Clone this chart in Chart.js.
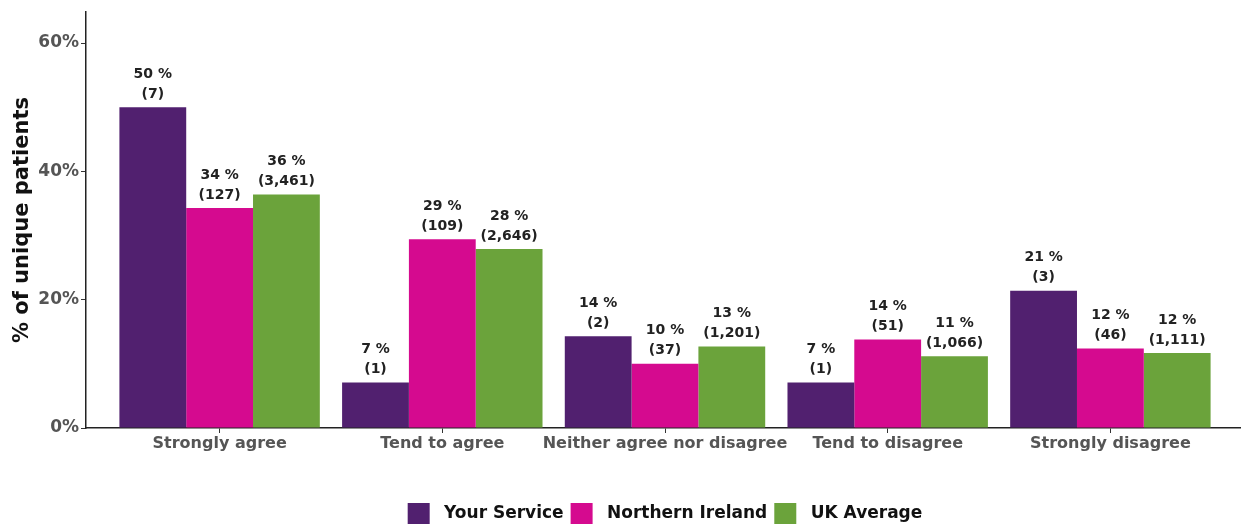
<!DOCTYPE html>
<html>
<head>
<meta charset="utf-8">
<script src="https://cdn.jsdelivr.net/npm/chart.js@4/dist/chart.umd.min.js"></script>
<style>
  html, body { margin: 0; padding: 0; background: #fff; overflow: hidden; }
  #wrap { width: 1244px; height: 535px; position: relative; }
</style>
</head>
<body>
<div id="wrap"><canvas id="chart"></canvas></div>
<script>
// Survey answers and the three comparison groups
const categories = ['Strongly agree', 'Tend to agree', 'Neither agree nor disagree', 'Tend to disagree', 'Strongly disagree'];
const seriesNames = ['Your Service', 'Northern Ireland', 'UK Average'];
const seriesColors = ['#51206f', '#d50a8f', '#6ba33b'];

// Percent of unique patients per answer
const yourServicePct = [50.0, 7.1, 14.3, 7.1, 21.4];
const northernIrelandPct = [34.3, 29.4, 10.0, 13.8, 12.4];
const ukAveragePct = [36.4, 27.9, 12.7, 11.2, 11.7];

// Patient counts behind each percentage
const yourServiceN = [7, 1, 2, 1, 3];
const northernIrelandN = [127, 109, 37, 51, 46];
const ukAverageN = [3461, 2646, 1201, 1066, 1111];

const yTicks = [0, 20, 40, 60];

const pctSeries = [yourServicePct, northernIrelandPct, ukAveragePct];
const countSeries = [yourServiceN, northernIrelandN, ukAverageN];

const fontFamily = '"DejaVu Sans", "Open Sans", sans-serif';

// Draws "NN %" and "(count)" above every bar
const barLabels = {
    id: 'barLabels',
    afterDatasetsDraw(chart) {
        const ctx = chart.ctx;
        ctx.save();
        ctx.font = 'bold 14px ' + fontFamily;
        ctx.fillStyle = '#222';
        ctx.textAlign = 'center';
        ctx.textBaseline = 'middle';
        chart.data.datasets.forEach((ds, i) => {
            chart.getDatasetMeta(i).data.forEach((bar, j) => {
                const pct = pctSeries[i][j];
                const n = countSeries[i][j];
                ctx.fillText(Math.round(pct) + ' %', bar.x, bar.y - 33);
                ctx.fillText('(' + n.toLocaleString('en-US') + ')', bar.x, bar.y - 13);
            });
        });
        ctx.restore();
    }
};

const datasets = seriesNames.map((name, i) => ({
    label: name,
    data: pctSeries[i].map((v, j) => ({ x: j + 1, y: v })),
    backgroundColor: seriesColors[i],
    borderWidth: 0,
    categoryPercentage: 0.9,
    barPercentage: 1.0
}));

new Chart(document.getElementById('chart'), {
    type: 'bar',
    data: { datasets: datasets },
    options: {
        responsive: true,
        maintainAspectRatio: false,
        animation: false,
        layout: { padding: { top: 12, left: 0, right: 0, bottom: 0 } },
        plugins: {
            tooltip: { enabled: false },
            legend: {
                position: 'bottom',
                fullSize: false, // center under the plot, not the whole canvas
                labels: {
                    boxWidth: 22,
                    boxHeight: 22,
                    padding: 7,
                    color: '#111',
                    font: { family: fontFamily, size: 17, weight: 'bold' },
                    generateLabels(chart) {
                        // extra space between swatch and name
                        return Chart.defaults.plugins.legend.labels.generateLabels(chart).map(l => {
                            l.text = ' ' + l.text;
                            return l;
                        });
                    }
                }
            }
        },
        scales: {
            x: {
                type: 'linear',
                offset: false,
                min: 0.4,
                max: 5.6,
                afterBuildTicks(scale) {
                    scale.ticks = categories.map((c, i) => ({ value: i + 1 }));
                },
                afterFit(scale) { scale.height = 68; },
                grid: { offset: false, drawOnChartArea: false, drawTicks: true, tickLength: 5, color: '#333' },
                border: { display: true, color: '#222', width: 1.5 },
                ticks: {
                    autoSkip: false,
                    maxRotation: 0,
                    padding: 1,
                    color: '#555',
                    font: { family: fontFamily, size: 16, weight: 'bold' },
                    callback: (v) => categories[v - 1] || ''
                }
            },
            y: {
                min: 0,
                max: 64.8,
                afterBuildTicks(scale) {
                    scale.ticks = yTicks.map(v => ({ value: v }));
                },
                afterFit(scale) { scale.width = 86; },
                grid: { drawOnChartArea: false, drawTicks: true, tickLength: 5, color: '#333' },
                border: { display: true, color: '#222', width: 1.5 },
                ticks: {
                    padding: 2,
                    color: '#555',
                    font: { family: fontFamily, size: 17, weight: 'bold' },
                    callback: (v) => v + '%'
                },
                title: {
                    display: true,
                    text: '% of unique patients',
                    color: '#111',
                    padding: { top: 10, bottom: 0 },
                    font: { family: fontFamily, size: 21, weight: 'bold' }
                }
            }
        }
    },
    plugins: [barLabels]
});
</script>
</body>
</html>
